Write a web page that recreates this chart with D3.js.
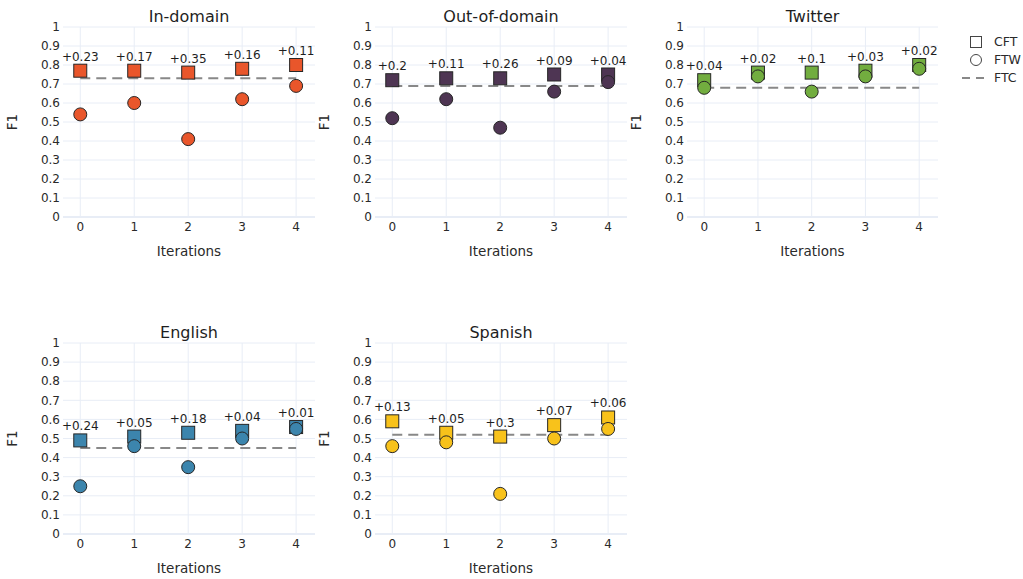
<!DOCTYPE html>
<html>
<head>
<meta charset="utf-8">
<script src="https://cdn.jsdelivr.net/npm/d3@7"></script>
<style>
  body { margin: 0; background: #fff; }
  text { font-family: "DejaVu Sans", Verdana, sans-serif; }
</style>
</head>
<body>
<div id="chart"></div>
<script>
const iterations = [0, 1, 2, 3, 4];
const yTicks = [0, 0.1, 0.2, 0.3, 0.4, 0.5, 0.6, 0.7, 0.8, 0.9, 1];
const panelNames = ["In-domain", "Out-of-domain", "Twitter", "English", "Spanish"];
const panelColors = ["#e9562b", "#4e3553", "#72ad3f", "#3c85ad", "#f8c21b"];
const cftValues = [
  [0.77, 0.77, 0.76, 0.78, 0.80],
  [0.72, 0.73, 0.73, 0.75, 0.75],
  [0.72, 0.76, 0.76, 0.77, 0.80],
  [0.49, 0.51, 0.53, 0.54, 0.56],
  [0.59, 0.53, 0.51, 0.57, 0.61]
];
const ftwValues = [
  [0.54, 0.60, 0.41, 0.62, 0.69],
  [0.52, 0.62, 0.47, 0.66, 0.71],
  [0.68, 0.74, 0.66, 0.74, 0.78],
  [0.25, 0.46, 0.35, 0.50, 0.55],
  [0.46, 0.48, 0.21, 0.50, 0.55]
];
const ftcValues = [0.73, 0.69, 0.68, 0.45, 0.52];
const legendNames = ["CFT", "FTW", "FTC"];

const width = 1023, height = 579;
const svg = d3.select("#chart").append("svg")
  .attr("width", width).attr("height", height);

// plot boxes: [left, right] and [top(=1), bottom(=0)]
const cols = [[63, 315], [375, 627], [687, 938]];
const rows = [[27, 217], [343, 534]];

panelNames.forEach((name, p) => {
  const [left, right] = cols[p % 3];
  const [top, bottom] = rows[Math.floor(p / 3)];
  const x = d3.scaleLinear().domain([-0.32, 4.35]).range([left, right]);
  const y = d3.scaleLinear().domain([0, 1]).range([bottom, top]);
  const g = svg.append("g");

  // grid
  g.selectAll(".hg").data(yTicks).join("line")
    .attr("x1", left).attr("x2", right)
    .attr("y1", d => y(d)).attr("y2", d => y(d))
    .attr("stroke", "#e8edf6").attr("stroke-width", d => d === 0 ? 2 : 1);
  g.selectAll(".vg").data(iterations).join("line")
    .attr("x1", d => x(d)).attr("x2", d => x(d))
    .attr("y1", y(0)).attr("y2", y(1))
    .attr("stroke", "#e8edf6");

  // tick labels
  g.selectAll(".yt").data(yTicks).join("text")
    .attr("x", left - 3).attr("y", d => y(d)).attr("dy", "0.35em")
    .attr("text-anchor", "end").attr("font-size", 12).attr("fill", "#2a2a2a")
    .text(d => d3.format("")(d));
  g.selectAll(".xt").data(iterations).join("text")
    .attr("x", d => x(d)).attr("y", bottom + 10).attr("dy", "0.35em")
    .attr("text-anchor", "middle").attr("font-size", 12).attr("fill", "#2a2a2a")
    .text(d => d);

  // titles
  g.append("text").attr("x", (left + right) / 2).attr("y", top - 11).attr("dy", "0.35em")
    .attr("text-anchor", "middle").attr("font-size", 16).attr("fill", "#1e1e1e").text(name);
  g.append("text").attr("x", (left + right) / 2).attr("y", bottom + 34).attr("dy", "0.35em")
    .attr("text-anchor", "middle").attr("font-size", 13.5).attr("fill", "#2a2a2a").text("Iterations");
  g.append("text")
    .attr("transform", `translate(${left - 51},${(top + bottom) / 2}) rotate(-90)`)
    .attr("dy", "0.35em").attr("text-anchor", "middle").attr("font-size", 13.5)
    .attr("fill", "#2a2a2a").text("F1");

  // FTC baseline
  g.append("line")
    .attr("x1", x(0)).attr("x2", x(4))
    .attr("y1", y(ftcValues[p])).attr("y2", y(ftcValues[p]))
    .attr("stroke", "#888").attr("stroke-width", 2).attr("stroke-dasharray", "10,6");

  const color = panelColors[p];
  const cft = cftValues[p], ftw = ftwValues[p];

  // CFT squares
  g.selectAll(".sq").data(iterations).join("rect")
    .attr("x", d => x(d) - 6.5).attr("y", d => y(cft[d]) - 6.5)
    .attr("width", 13).attr("height", 13)
    .attr("fill", color).attr("stroke", "#262626").attr("stroke-width", 1);

  // FTW circles
  g.selectAll(".ci").data(iterations).join("circle")
    .attr("cx", d => x(d)).attr("cy", d => y(ftw[d])).attr("r", 6.5)
    .attr("fill", color).attr("stroke", "#262626").attr("stroke-width", 1);

  // gain annotations
  g.selectAll(".an").data(iterations).join("text")
    .attr("x", d => x(d)).attr("y", d => y(cft[d]) - 10)
    .attr("text-anchor", "middle").attr("font-size", 12).attr("fill", "#1e1e1e")
    .text(d => "+" + (+(cft[d] - ftw[d]).toFixed(2)));
});

// legend
const lg = svg.append("g").attr("transform", "translate(976,0)");
lg.append("rect").attr("x", -5.5).attr("y", 42 - 5.5).attr("width", 11).attr("height", 11)
  .attr("fill", "none").attr("stroke", "#444");
lg.append("circle").attr("cx", 0).attr("cy", 60).attr("r", 5.5)
  .attr("fill", "none").attr("stroke", "#444");
lg.append("line").attr("x1", -14).attr("x2", 14).attr("y1", 78).attr("y2", 78)
  .attr("stroke", "#888").attr("stroke-width", 2).attr("stroke-dasharray", "8,6");
lg.selectAll(".lt").data(legendNames).join("text")
  .attr("x", 18).attr("y", (d, i) => 42 + i * 18).attr("dy", "0.35em")
  .attr("font-size", 12.5).attr("fill", "#2a2a2a").text(d => d);
</script>
</body>
</html>
